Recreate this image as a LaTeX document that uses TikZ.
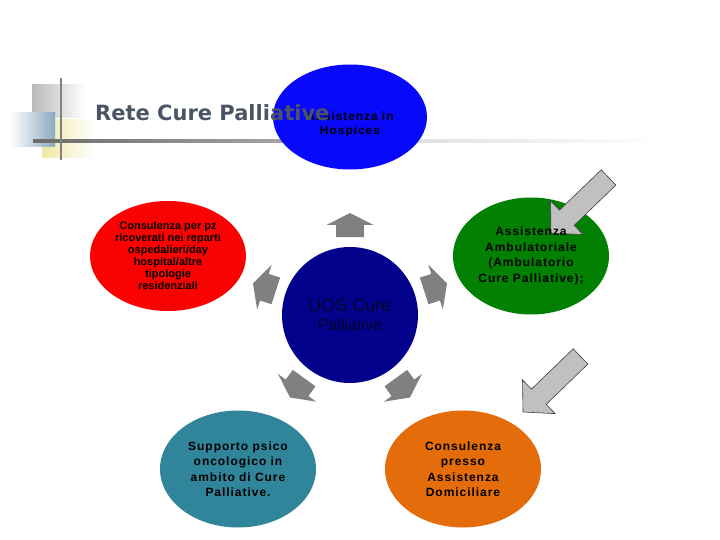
\documentclass[tikz,border=0pt]{standalone}
\usepackage{fontspec}
\setmainfont{Liberation Sans}
\newfontfamily\titlefont{DejaVu Sans}
\newfontfamily\spacedfont[LetterSpace=8]{Liberation Sans}
\usetikzlibrary{shapes.geometric}

\definecolor{hospblue}{RGB}{8,8,250}
\definecolor{redbubble}{RGB}{250,2,2}
\definecolor{greenbubble}{RGB}{2,128,2}
\definecolor{tealbubble}{RGB}{49,133,155}
\definecolor{orangebubble}{RGB}{228,108,10}
\definecolor{uosnavy}{RGB}{2,2,140}
\definecolor{uostext}{RGB}{4,4,40}
\definecolor{titlegray}{RGB}{74,84,100}
\definecolor{spokegray}{RGB}{128,128,128}
\definecolor{hintgray}{RGB}{192,192,192}
\definecolor{decogray}{RGB}{185,185,185}
\definecolor{decoblue}{RGB}{138,170,191}
\definecolor{decoyellow}{RGB}{238,232,165}

\tikzset{
  bubble/.style={ellipse, inner sep=0pt, minimum width=156pt, minimum height=117pt, align=center},
  smalltext/.style={font=\bfseries\fontsize{11}{12}\selectfont},
  widetext/.style={font=\spacedfont\bfseries\fontsize{12}{15.5}\selectfont, align=center},
  spoke/.style={fill=spokegray},
  hintarrow/.style={fill=hintgray, draw=black!75, line width=0.6pt},
}

\begin{document}
\begin{tikzpicture}[x=1pt,y=-1pt]
	\useasboundingbox (0,0) rectangle (720,540);
	
	% Squares in the corner of the title
	\shade[left color=decoyellow, right color=white] (42,120) rectangle (95,158);
	\shade[left color=decogray, right color=white] (32,85) rectangle (85,118);
	\shade[left color=white, right color=decoblue] (10,113) rectangle (55,147);
	
	% Rule under the title
	\shade[left color=black!58, right color=black!35] (33,139.5) rectangle (290,142.5);
	\shade[left color=black!18, right color=white] (290,139.5) rectangle (665,142.5);
	\draw[spokegray, line width=2pt] (61,78) -- (61,160);
	
	% Top bubble
	\node[bubble, fill=hospblue, minimum width=154pt, minimum height=105pt] (hosp) at (350,117) {};
	\node[widetext, font=\spacedfont\bfseries\fontsize{12}{14}\selectfont] (hosp-txt) at (350,124) {Assistenza in\\Hospices};
	
	% Title
	\node[anchor=west, inner sep=0pt, text=titlegray, font=\titlefont\bfseries\fontsize{21}{24}\selectfont] (title) at (95,113) {Rete Cure Palliative};
	
	% Centre
	\node[circle, fill=uosnavy, minimum size=136pt, inner sep=0pt, align=center, text=uostext,
		font=\fontsize{18}{20}\selectfont] (uos) at (350,315)
		{UOS Cure\\[-1pt]{\fontsize{16}{20}\selectfont Palliative}};
	
	% Side bubbles
	\node[bubble, fill=redbubble, smalltext, minimum height=110pt] (ricov) at (168,256)
		{Consulenza per pz\\ricoverati nei reparti\\ospedalieri/day\\hospital/altre\\tipologie\\residenziali};
	\node[bubble, fill=greenbubble] (ambul) at (531,256) {};
	\node[bubble, fill=tealbubble, widetext] (psico) at (238,469)
		{Supporto psico\\oncologico in\\ambito di Cure\\Palliative.};
	\node[bubble, fill=orangebubble, widetext] (domic) at (463,469)
		{Consulenza\\presso\\Assistenza\\Domiciliare};
	
	% Gray arrows round the centre
	\foreach \a in {90,162,18,234,306}
		\fill[spoke, shift={(uos.center)}, rotate=\a] (78,-14) -- (90,-14) -- (90,-23.5) -- (102,0) -- (90,23.5) -- (90,14) -- (78,14) -- cycle;
	
	% Light arrows on the right
	\coordinate (tipA) at (551,233);
	\coordinate (tipB) at (523,412);
	\foreach \t in {tipA,tipB}
		\filldraw[hintarrow, shift={(\t)}, rotate=44] (0,0) -- (22,-23.5) -- (22,-10.6) -- (80,-10.6) -- (80,10.6) -- (22,10.6) -- (22,23.5) -- cycle;
	
	\node[widetext] (ambul-txt) at (ambul) {Assistenza\\Ambulatoriale\\(Ambulatorio\\Cure Palliative);};
\end{tikzpicture}
\end{document}
